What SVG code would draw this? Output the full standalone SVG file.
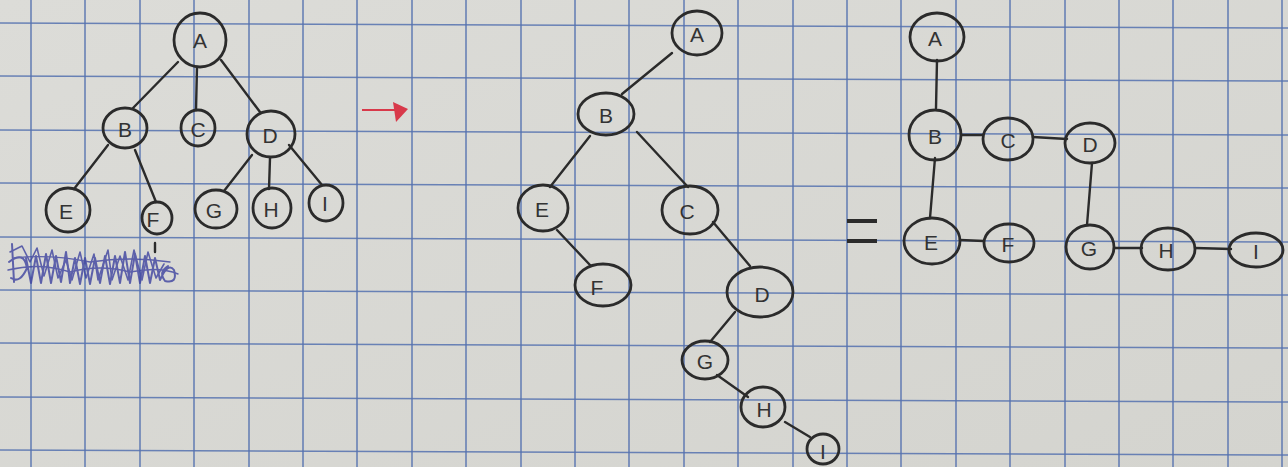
<svg xmlns="http://www.w3.org/2000/svg" width="1288" height="467" viewBox="0 0 1288 467">
<style>
.grid line{stroke:#5572b0;stroke-width:1.6;opacity:0.85}
.n ellipse{fill:none;stroke:#2b2b2b;stroke-width:2.8}
.n text{font-family:"Liberation Sans",Arial,sans-serif;fill:#333;text-anchor:middle;dominant-baseline:central;font-size:21px}
.e line{stroke:#2b2b2b;stroke-width:2.4;stroke-linecap:round}
</style>
<defs>
<linearGradient id="paper" x1="0" y1="0" x2="1" y2="1">
<stop offset="0" stop-color="#dcdcd8"/>
<stop offset="1" stop-color="#d4d4cf"/>
</linearGradient>
</defs>
<rect width="1288" height="467" fill="url(#paper)"/>
<g class="grid">
<line x1="31" y1="0" x2="31" y2="467"/><line x1="85" y1="0" x2="85" y2="467"/><line x1="140" y1="0" x2="140" y2="467"/><line x1="194" y1="0" x2="194" y2="467"/><line x1="249" y1="0" x2="249" y2="467"/><line x1="303" y1="0" x2="303" y2="467"/><line x1="357" y1="0" x2="357" y2="467"/><line x1="412" y1="0" x2="412" y2="467"/><line x1="466" y1="0" x2="466" y2="467"/><line x1="521" y1="0" x2="521" y2="467"/><line x1="575" y1="0" x2="575" y2="467"/><line x1="629" y1="0" x2="629" y2="467"/><line x1="684" y1="0" x2="684" y2="467"/><line x1="738" y1="0" x2="738" y2="467"/><line x1="793" y1="0" x2="793" y2="467"/><line x1="847" y1="0" x2="847" y2="467"/><line x1="901" y1="0" x2="901" y2="467"/><line x1="956" y1="0" x2="956" y2="467"/><line x1="1010" y1="0" x2="1010" y2="467"/><line x1="1065" y1="0" x2="1065" y2="467"/><line x1="1119" y1="0" x2="1119" y2="467"/><line x1="1173" y1="0" x2="1173" y2="467"/><line x1="1228" y1="0" x2="1228" y2="467"/><line x1="1282" y1="0" x2="1282" y2="467"/>
<line x1="0" y1="23" x2="1288" y2="28"/><line x1="0" y1="76" x2="1288" y2="81"/><line x1="0" y1="130" x2="1288" y2="135"/><line x1="0" y1="183" x2="1288" y2="188"/><line x1="0" y1="237" x2="1288" y2="242"/><line x1="0" y1="290" x2="1288" y2="295"/><line x1="0" y1="343" x2="1288" y2="348"/><line x1="0" y1="397" x2="1288" y2="402"/><line x1="0" y1="450" x2="1288" y2="455"/>
</g>
<g id="connectors" class="e">
<line x1="178" y1="62" x2="133" y2="108"/><line x1="197" y1="67" x2="196" y2="110"/><line x1="221" y1="60" x2="260" y2="112"/>
<line x1="108" y1="145" x2="74" y2="189"/><line x1="135" y1="150" x2="156" y2="202"/>
<line x1="252" y1="155" x2="224" y2="191"/><line x1="270" y1="158" x2="269" y2="189"/><line x1="289" y1="145" x2="322" y2="185"/>
<line x1="155" y1="243" x2="155" y2="252" stroke-width="1.6"/>
<line x1="672" y1="53" x2="622" y2="94"/><line x1="590" y1="136" x2="550" y2="187"/><line x1="637" y1="132" x2="688" y2="187"/>
<line x1="557" y1="230" x2="590" y2="265"/><line x1="713" y1="222" x2="750" y2="266"/><line x1="735" y1="312" x2="710" y2="342"/>
<line x1="717" y1="375" x2="748" y2="397"/><line x1="785" y1="422" x2="810" y2="437"/>
<line x1="937" y1="60" x2="936" y2="108"/><line x1="962" y1="135" x2="983" y2="135"/><line x1="1033" y1="137" x2="1067" y2="139"/>
<line x1="935" y1="158" x2="930" y2="218"/><line x1="1092" y1="163" x2="1087" y2="225"/><line x1="960" y1="240" x2="984" y2="241"/>
<line x1="1114" y1="248" x2="1142" y2="248"/><line x1="1195" y1="248" x2="1231" y2="249"/>
</g>
<g id="t1A" class="n"><ellipse cx="200" cy="40" rx="26" ry="27"/><text x="200" y="40" font-size="26">A</text></g>
<g id="t1B" class="n"><ellipse cx="125" cy="128" rx="22" ry="20"/><text x="125" y="129">B</text></g>
<g id="t1C" class="n"><ellipse cx="198" cy="128" rx="17" ry="18"/><text x="198" y="129" font-size="18">C</text></g>
<g id="t1D" class="n"><ellipse cx="271" cy="134" rx="24" ry="23"/><text x="270" y="135" font-size="24">D</text></g>
<g id="t1E" class="n"><ellipse cx="68" cy="210" rx="22" ry="22"/><text x="66" y="211" font-size="17">E</text></g>
<g id="t1F" class="n"><ellipse cx="157" cy="218" rx="15" ry="16"/><text x="153" y="219" font-size="16">F</text></g>
<g id="t1G" class="n"><ellipse cx="216" cy="209" rx="21" ry="19"/><text x="214" y="210" font-size="19">G</text></g>
<g id="t1H" class="n"><ellipse cx="272" cy="208" rx="19" ry="20"/><text x="271" y="209" font-size="18">H</text></g>
<g id="t1I" class="n"><ellipse cx="326" cy="203" rx="17" ry="18"/><text x="325" y="203" font-size="16">I</text></g>
<g id="arrow"><line x1="362" y1="110" x2="396" y2="110" stroke="#d8394a" stroke-width="2.2"/><path d="M393 102 L408 109 L396 122 Z" fill="#d8394a"/></g>
<g id="scribble" fill="none" stroke="#3e43a0" stroke-linejoin="round" stroke-linecap="round" opacity="0.8">
<path stroke-width="2" d="M12 244 L14 282 M9 262 Q24 250 27 268 Q20 284 11 278 M26 258 L31 283 L36 256 L41 283 L46 254 L51 283 L56 256 L61 282 L66 252 L70 283 L75 258 L80 284 L85 258 L90 284 L95 258 L100 283 L105 256 L110 284 L115 256 L120 283 L125 252 L130 283 L135 254 L140 283 L145 256 L150 283 L155 258 L160 280 Q168 262 174 270 Q178 284 165 281 Q158 272 168 266"/>
<path stroke-width="1.6" d="M10 252 L22 246 L30 262 L37 248 L44 276 L52 250 L58 278 L66 260 L72 280 L80 252 L86 278 L94 254 L98 280 L108 250 L112 280 L120 256 L128 280 L134 250 L142 280 L148 252 L156 278 L164 264"/>
<path stroke-width="1.4" d="M8 270 Q40 262 70 272 Q100 264 130 272 Q160 266 178 274 M14 258 Q50 254 90 262 Q130 256 170 262"/>
</g>
<g id="t2A" class="n"><ellipse cx="697" cy="33" rx="25" ry="22"/><text x="697" y="34" font-size="22">A</text></g>
<g id="t2B" class="n"><ellipse cx="606" cy="114" rx="28" ry="21"/><text x="606" y="115" font-size="22">B</text></g>
<g id="t2E" class="n"><ellipse cx="543" cy="208" rx="25" ry="23"/><text x="542" y="209" font-size="18">E</text></g>
<g id="t2C" class="n"><ellipse cx="690" cy="210" rx="28" ry="24"/><text x="687" y="211" font-size="26">C</text></g>
<g id="t2F" class="n"><ellipse cx="603" cy="285" rx="28" ry="21"/><text x="597" y="287" font-size="20">F</text></g>
<g id="t2D" class="n"><ellipse cx="760" cy="292" rx="33" ry="25"/><text x="762" y="294" font-size="26">D</text></g>
<g id="t2G" class="n"><ellipse cx="705" cy="360" rx="23" ry="19"/><text x="705" y="361" font-size="18">G</text></g>
<g id="t2H" class="n"><ellipse cx="763" cy="407" rx="22" ry="20"/><text x="764" y="409" font-size="18">H</text></g>
<g id="t2I" class="n"><ellipse cx="823" cy="449" rx="16" ry="15"/><text x="823" y="451" font-size="16">I</text></g>
<g id="equals"><line x1="847" y1="221" x2="877" y2="221" stroke="#2b2b2b" stroke-width="4"/><line x1="847" y1="241" x2="877" y2="241" stroke="#2b2b2b" stroke-width="4"/></g>
<g id="t3A" class="n"><ellipse cx="937" cy="37" rx="27" ry="24"/><text x="935" y="38" font-size="22">A</text></g>
<g id="t3B" class="n"><ellipse cx="935" cy="135" rx="26" ry="25"/><text x="935" y="136" font-size="21">B</text></g>
<g id="t3C" class="n"><ellipse cx="1008" cy="139" rx="25" ry="21"/><text x="1008" y="140" font-size="22">C</text></g>
<g id="t3D" class="n"><ellipse cx="1090" cy="143" rx="25" ry="20"/><text x="1090" y="144" font-size="22">D</text></g>
<g id="t3E" class="n"><ellipse cx="932" cy="241" rx="28" ry="23"/><text x="931" y="242" font-size="21">E</text></g>
<g id="t3F" class="n"><ellipse cx="1009" cy="243" rx="25" ry="19"/><text x="1008" y="244" font-size="20">F</text></g>
<g id="t3G" class="n"><ellipse cx="1090" cy="247" rx="24" ry="22"/><text x="1089" y="248" font-size="22">G</text></g>
<g id="t3H" class="n"><ellipse cx="1168" cy="249" rx="27" ry="21"/><text x="1166" y="250" font-size="20">H</text></g>
<g id="t3I" class="n"><ellipse cx="1256" cy="250" rx="27" ry="17"/><text x="1256" y="251" font-size="20">I</text></g>
</svg>
